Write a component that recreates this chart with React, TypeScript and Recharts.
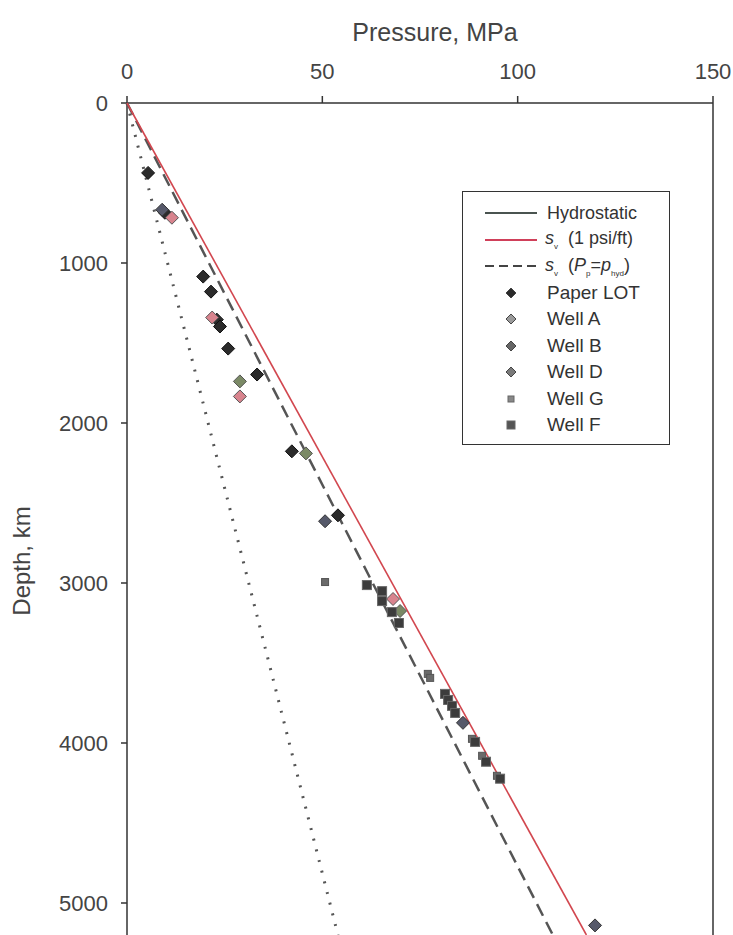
import React from 'react';
import { ScatterChart, Scatter, XAxis, YAxis, ReferenceLine } from 'recharts';

const pressureTicks = [0, 50, 100, 150];
const depthTicks = [0, 1000, 2000, 3000, 4000, 5000];

// gradient lines: end points (MPa, m)
const hydrostatic = [{ p: 0, d: 0 }, { p: 54, d: 5200 }];
const overburden = [{ p: 0, d: 0 }, { p: 117.6, d: 5200 }];
const overburdenHyd = [{ p: 0, d: 0 }, { p: 109, d: 5200 }];

// measured points
const paperLot = [
    { p: 5.4, d: 437 }, { p: 9.7, d: 686 }, { p: 19.5, d: 1085 }, { p: 21.5, d: 1179 },
    { p: 23.0, d: 1354 }, { p: 23.8, d: 1397 }, { p: 25.9, d: 1535 }, { p: 33.3, d: 1697 },
    { p: 42.2, d: 2177 }, { p: 54.0, d: 2577 },
];
const wellA = [
    { p: 11.5, d: 717 }, { p: 21.8, d: 1341 }, { p: 28.9, d: 1834 }, { p: 68.1, d: 3100 },
];
const wellB = [
    { p: 9.0, d: 667 }, { p: 50.7, d: 2614 }, { p: 86.0, d: 3874 }, { p: 119.8, d: 5140 },
];
const wellD = [
    { p: 28.9, d: 1740 }, { p: 45.8, d: 2190 }, { p: 69.9, d: 3175 },
];
const wellG = [
    { p: 50.7, d: 2994 }, { p: 77.0, d: 3568 }, { p: 77.6, d: 3593 }, { p: 88.3, d: 3974 },
    { p: 90.9, d: 4080 }, { p: 94.7, d: 4205 },
];
const wellF = [
    { p: 61.4, d: 3013 }, { p: 65.3, d: 3051 }, { p: 65.3, d: 3113 }, { p: 67.8, d: 3182 },
    { p: 69.6, d: 3250 }, { p: 81.4, d: 3693 }, { p: 82.2, d: 3731 }, { p: 83.2, d: 3768 },
    { p: 84.0, d: 3812 }, { p: 89.1, d: 3993 }, { p: 91.9, d: 4117 }, { p: 95.5, d: 4223 },
];

const diamond = (fill: string, stroke: string, r: number) => (props: any) => {
    const { cx, cy } = props;
    return (
        <polygon
            points={`${cx},${cy - r} ${cx + r},${cy} ${cx},${cy + r} ${cx - r},${cy}`}
            fill={fill}
            stroke={stroke}
            strokeWidth={1}
        />
    );
};

const square = (fill: string, stroke: string, s: number) => (props: any) => {
    const { cx, cy } = props;
    return <rect x={cx - s / 2} y={cy - s / 2} width={s} height={s} fill={fill} stroke={stroke} strokeWidth={1} />;
};

const noDot = () => <g />;

const markers = [
    { name: 'Paper LOT', data: paperLot, shape: diamond('#2b2b2b', '#111', 6.5), icon: 'diamond', fill: '#2b2b2b' },
    { name: 'Well A', data: wellA, shape: diamond('#d8848e', '#555', 6.5), icon: 'diamond', fill: '#9a9a9a' },
    { name: 'Well B', data: wellB, shape: diamond('#56596a', '#333', 6.5), icon: 'diamond', fill: '#666' },
    { name: 'Well D', data: wellD, shape: diamond('#7b8a66', '#555', 6.5), icon: 'diamond', fill: '#7a7a7a' },
    { name: 'Well G', data: wellG, shape: square('#6a6a6a', '#555', 7), icon: 'squareSmall', fill: '#888' },
    { name: 'Well F', data: wellF, shape: square('#3c3c3c', '#666', 9), icon: 'square', fill: '#555' },
];

const Sub = ({ c, s }: { c: string; s: string }) => (
    <span>
        <i>{c}</i>
        <sub style={{ fontSize: 8 }}>{s}</sub>
    </span>
);

const LegendBox = () => {
    const row = { display: 'flex', alignItems: 'center', height: 26.5 } as React.CSSProperties;
    const icon = { width: 52, marginRight: 10, display: 'flex', justifyContent: 'center' } as React.CSSProperties;
    return (
        <div
            style={{
                position: 'absolute', left: 462, top: 191, width: 208, height: 254,
                border: '1.5px solid #333', background: '#fff', boxSizing: 'border-box',
                padding: '8px 0 0 22px', fontSize: 18, color: '#333',
            }}
        >
            <div style={row}>
                <svg width={52} height={10} style={{ marginRight: 10 }}><line x1={0} y1={5} x2={52} y2={5} stroke="#4a5450" strokeWidth={2} /></svg>
                <span>Hydrostatic</span>
            </div>
            <div style={row}>
                <svg width={52} height={10} style={{ marginRight: 8 }}><line x1={0} y1={5} x2={52} y2={5} stroke="#d0405a" strokeWidth={2} /></svg>
                <span><Sub c="s" s="v" />&nbsp; (1 psi/ft)</span>
            </div>
            <div style={row}>
                <svg width={52} height={10} style={{ marginRight: 8 }}><line x1={0} y1={5} x2={52} y2={5} stroke="#444" strokeWidth={2} strokeDasharray="9 5" /></svg>
                <span><Sub c="s" s="v" />&nbsp; (<Sub c="P" s="p" />=<Sub c="p" s="hyd" />)</span>
            </div>
            {markers.map(m => (
                <div key={m.name} style={row}>
                    <div style={icon}>
                        <svg width={12} height={12}>
                            {m.icon === 'diamond' && <polygon points="6,1 11,6 6,11 1,6" fill={m.fill} stroke="#444" />}
                            {m.icon === 'squareSmall' && <rect x={3} y={3} width={6} height={6} fill={m.fill} stroke="#666" />}
                            {m.icon === 'square' && <rect x={2} y={2} width={8} height={8} fill={m.fill} stroke="#666" />}
                        </svg>
                    </div>
                    <span style={{ fontSize: 19 }}>{m.name}</span>
                </div>
            ))}
        </div>
    );
};

const xTitle = (props: any) => {
    const { viewBox } = props;
    return (
        <text x={viewBox.x + viewBox.width / 2 + 15} y={41} textAnchor="middle" fill="#444" fontSize={25}>
            Pressure, MPa
        </text>
    );
};

const yTitle = (props: any) => {
    const { viewBox } = props;
    const cy = viewBox.y + viewBox.height / 2 + 42;
    return (
        <text x={30} y={cy} transform={`rotate(-90, 30, ${cy})`} textAnchor="middle" fill="#444" fontSize={24}>
            Depth, km
        </text>
    );
};

export default function App() {
    return (
        <div style={{ position: 'absolute', left: 0, top: 0, width: 733, height: 935, fontFamily: '"Liberation Sans", Arial, sans-serif', background: '#fff' }}>
            <ScatterChart width={733} height={935} margin={{ top: 63, right: 20, bottom: 0, left: 12 }}>
                <XAxis
                    type="number"
                    dataKey="p"
                    orientation="top"
                    domain={[0, 150]}
                    ticks={pressureTicks}
                    height={40}
                    tickSize={7}
                    tickMargin={17}
                    stroke="#333"
                    strokeWidth={1.5}
                    tick={{ fill: '#444', fontSize: 22 }}
                    label={{ content: xTitle }}
                />
                <YAxis
                    type="number"
                    dataKey="d"
                    reversed
                    domain={[0, 5200]}
                    ticks={depthTicks}
                    width={115}
                    tickSize={6}
                    tickMargin={13}
                    stroke="#333"
                    strokeWidth={1.5}
                    tick={{ fill: '#444', fontSize: 22 }}
                    label={{ content: yTitle }}
                />
                <ReferenceLine x={150} stroke="#333" strokeWidth={1.5} />
                <Scatter data={hydrostatic} line={{ stroke: '#555', strokeWidth: 3, strokeDasharray: '2 9' }} shape={noDot} legendType="none" isAnimationActive={false} />
                <Scatter data={overburdenHyd} line={{ stroke: '#555', strokeWidth: 2.5, strokeDasharray: '13 7' }} shape={noDot} legendType="none" isAnimationActive={false} />
                <Scatter data={overburden} line={{ stroke: '#d2474f', strokeWidth: 1.6 }} shape={noDot} legendType="none" isAnimationActive={false} />
                {markers.map(m => (
                    <Scatter key={m.name} name={m.name} data={m.data} shape={m.shape} isAnimationActive={false} />
                ))}
            </ScatterChart>
            <LegendBox />
        </div>
    );
}
